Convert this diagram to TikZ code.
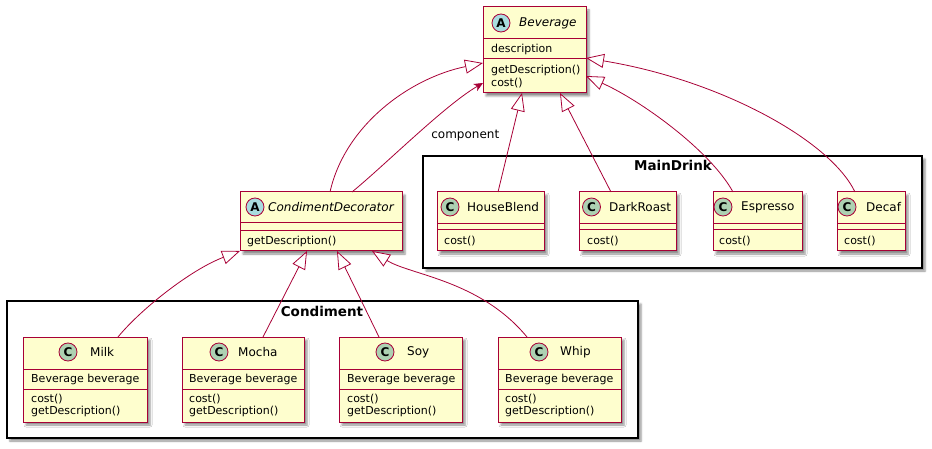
\documentclass[tikz,border=0pt]{standalone}
\usepackage{fontspec}
\setmainfont{DejaVu Sans}
\usepackage{tikz}
\usetikzlibrary{arrows.meta, shadows.blur}
\definecolor{umlred}{HTML}{A80036}
\definecolor{umlfill}{HTML}{FEFECE}
\definecolor{umlgreen}{HTML}{ADD1B2}
\definecolor{umlblue}{HTML}{A9DCDF}

\begin{document}
\begin{tikzpicture}[x=1pt, y=-1pt,
        box/.style={draw=umlred, fill=umlfill, line width=1pt, inner sep=0pt, outer sep=0pt, anchor=north west,
            blur shadow={shadow xshift=3pt, shadow yshift=-3pt, shadow blur radius=2pt, shadow opacity=45}},
        frame/.style={draw=black, fill=white, line width=1.3pt, inner sep=0pt, outer sep=0pt, anchor=north west,
            blur shadow={shadow xshift=3pt, shadow yshift=-3pt, shadow blur radius=2pt, shadow opacity=45}},
        sep/.style={draw=umlred, line width=1pt},
        badge/.style={circle, draw=umlred, line width=0.8pt, minimum size=18pt, inner sep=0pt, font=\fontsize{12}{12}\bfseries\selectfont},
        cname/.style={anchor=west, inner sep=0pt, font=\fontsize{12}{12}\selectfont},
        aname/.style={anchor=west, inner sep=0pt, font=\fontsize{12}{12}\itshape\selectfont},
        member/.style={anchor=west, inner sep=0pt, align=left, font=\fontsize{11}{12.5}\selectfont},
        ptitle/.style={inner sep=0pt, font=\fontsize{13.5}{13.5}\bfseries\selectfont},
        ext/.style={draw=umlred, line width=0.8pt, -{Triangle[open, length=18pt, width=14pt, fill=white]}},
        assoc/.style={draw=umlred, line width=0.8pt, -{Stealth[length=9pt, width=8pt, inset=2.5pt]}}
    ]
        \useasboundingbox (0,0) rectangle (932,449);

        \node[frame, minimum width=631pt, minimum height=137pt] (condiment) at (7,301) {};
        \node[ptitle] at (322,311) {Condiment};
        \node[frame, minimum width=499pt, minimum height=112pt] (maindrink) at (423,156) {};
        \node[ptitle] at (673,165) {MainDrink};

        \node[box, minimum width=103pt, minimum height=86pt] (bev) at (483,7) {};
        \draw[sep] (483,39) -- (586,39);
        \draw[sep] (483,59) -- (586,59);
        \node[badge, fill=umlblue] at (501,23) {A};
        \node[aname] at (519,23) {Beverage};
        \node[member] at (491,49) {description};
        \node[member] at (491,76.5) {getDescription()\\cost()};

        \node[box, minimum width=162pt, minimum height=59pt] (cd) at (240,192) {};
        \draw[sep] (240,223) -- (402,223);
        \draw[sep] (240,231) -- (402,231);
        \node[badge, fill=umlblue] at (255,207) {A};
        \node[aname] at (268,207) {CondimentDecorator};
        \node[member] at (247,241.5) {getDescription()};

        \node[box, minimum width=124pt, minimum height=85pt] (milk) at (23,337) {};
        \draw[sep] (23,369) -- (147,369);
        \draw[sep] (23,389) -- (147,389);
        \node[badge, fill=umlgreen] at (68,352) {C};
        \node[cname] at (90,352) {Milk};
        \node[member] at (31,379) {Beverage beverage};
        \node[member] at (31,405.5) {cost()\\getDescription()};

        \node[box, minimum width=122pt, minimum height=85pt] (mocha) at (182,337) {};
        \draw[sep] (182,369) -- (304,369);
        \draw[sep] (182,389) -- (304,389);
        \node[badge, fill=umlgreen] at (219,352) {C};
        \node[cname] at (238,352) {Mocha};
        \node[member] at (189,379) {Beverage beverage};
        \node[member] at (189,405.5) {cost()\\getDescription()};

        \node[box, minimum width=123pt, minimum height=85pt] (soy) at (339,337) {};
        \draw[sep] (339,369) -- (462,369);
        \draw[sep] (339,389) -- (462,389);
        \node[badge, fill=umlgreen] at (385,352) {C};
        \node[cname] at (407,352) {Soy};
        \node[member] at (347,379) {Beverage beverage};
        \node[member] at (347,405.5) {cost()\\getDescription()};

        \node[box, minimum width=123pt, minimum height=85pt] (whip) at (498,337) {};
        \draw[sep] (498,369) -- (621,369);
        \draw[sep] (498,389) -- (621,389);
        \node[badge, fill=umlgreen] at (539,352) {C};
        \node[cname] at (560,352) {Whip};
        \node[member] at (505,379) {Beverage beverage};
        \node[member] at (505,405.5) {cost()\\getDescription()};

        \node[box, minimum width=107pt, minimum height=59pt] (house) at (437,192) {};
        \draw[sep] (437,224) -- (544,224);
        \draw[sep] (437,230) -- (544,230);
        \node[badge, fill=umlgreen] at (450,207) {C};
        \node[cname] at (467,207) {HouseBlend};
        \node[member] at (444,241) {cost()};

        \node[box, minimum width=97pt, minimum height=59pt] (dark) at (579,192) {};
        \draw[sep] (579,224) -- (676,224);
        \draw[sep] (579,230) -- (676,230);
        \node[badge, fill=umlgreen] at (591.5,207) {C};
        \node[cname] at (609,207) {DarkRoast};
        \node[member] at (587,241) {cost()};

        \node[box, minimum width=89pt, minimum height=59pt] (espresso) at (713,192) {};
        \draw[sep] (713,224) -- (802,224);
        \draw[sep] (713,230) -- (802,230);
        \node[badge, fill=umlgreen] at (723,207) {C};
        \node[cname] at (741,207) {Espresso};
        \node[member] at (719,241) {cost()};

        \node[box, minimum width=68pt, minimum height=59pt] (decaf) at (837,192) {};
        \draw[sep] (837,224) -- (905,224);
        \draw[sep] (837,230) -- (905,230);
        \node[badge, fill=umlgreen] at (847,207) {C};
        \node[cname] at (866,207) {Decaf};
        \node[member] at (844,241) {cost()};

        \draw[ext] ([xshift=33pt]milk.north) .. controls (140,310) and (190,270) .. (cd.south west);
        \draw[ext] ([xshift=20pt]mocha.north) -- ([xshift=67pt]cd.south west);
        \draw[ext] ([xshift=-21.5pt]soy.north) -- ([xshift=97pt]cd.south west);
        \draw[ext] ([xshift=-32.5pt]whip.north) .. controls (480,280) and (410,275) .. ([xshift=132pt]cd.south west);

        \draw[ext] ([xshift=9pt]cd.north) .. controls (345,125) and (410,78) .. ([yshift=-56pt]bev.north west);
        \draw[assoc] ([xshift=31pt]cd.north) .. controls (385,165) and (445,105) .. ([yshift=-76pt]bev.north west)
            node[pos=0.5, anchor=west, xshift=12pt, font=\fontsize{12}{12}\selectfont] {component};

        \draw[ext] ([xshift=7.5pt]house.north) -- ([xshift=39pt]bev.south west);
        \draw[ext] ([xshift=-16.5pt]dark.north) -- ([xshift=77pt]bev.south west);
        \draw[ext] ([xshift=-24.5pt]espresso.north) .. controls (710,150) and (640,100) .. ([yshift=-69pt]bev.north east);
        \draw[ext] ([xshift=-16pt]decaf.north) .. controls (830,140) and (720,80) .. ([yshift=-51pt]bev.north east);
\end{tikzpicture}
\end{document}
